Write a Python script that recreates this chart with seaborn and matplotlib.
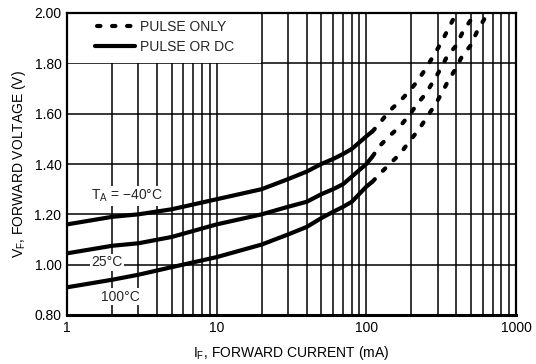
import numpy as np
import pandas as pd
import matplotlib
matplotlib.use("Agg")
import matplotlib.pyplot as plt
import seaborn as sns
from matplotlib.ticker import LogLocator, FixedLocator, NullFormatter
from matplotlib.patches import Rectangle
from matplotlib.lines import Line2D

# ---- data ----
i_solid = [1, 2, 3, 5, 10, 20, 30, 40, 50, 60, 70, 80, 100, 110]
v_solid_m40 = [1.16, 1.19, 1.20, 1.22, 1.26, 1.30, 1.34, 1.37, 1.40, 1.42, 1.44, 1.46, 1.51, 1.53]
v_solid_25 = [1.045, 1.075, 1.085, 1.11, 1.16, 1.20, 1.23, 1.25, 1.28, 1.30, 1.32, 1.35, 1.40, 1.43]
v_solid_100 = [0.91, 0.94, 0.96, 0.99, 1.03, 1.08, 1.12, 1.15, 1.185, 1.21, 1.23, 1.25, 1.31, 1.33]

i_dash_m40 = [110, 122, 142, 168, 194, 220, 250, 281, 315, 348, 400]
v_dash_m40 = [1.53, 1.56, 1.61, 1.65, 1.69, 1.73, 1.78, 1.83, 1.88, 1.93, 2.00]
i_dash_25 = [110, 122, 142, 168, 194, 220, 250, 281, 315, 348, 398, 445, 496, 530]
v_dash_25 = [1.43, 1.47, 1.51, 1.55, 1.595, 1.64, 1.68, 1.73, 1.78, 1.83, 1.87, 1.93, 1.97, 2.00]
i_dash_100 = [110, 125, 146, 168, 194, 223, 250, 284, 315, 352, 392, 438, 496, 553, 620, 650]
v_dash_100 = [1.33, 1.365, 1.405, 1.44, 1.49, 1.535, 1.58, 1.63, 1.675, 1.73, 1.775, 1.83, 1.87, 1.93, 1.98, 2.00]

x_ticks = [1, 10, 100, 1000]
x_tick_labels = ["1", "10", "100", "1000"]
y_ticks = [0.80, 1.00, 1.20, 1.40, 1.60, 1.80, 2.00]
y_tick_labels = ["0.80", "1.00", "1.20", "1.40", "1.60", "1.80", "2.00"]

legend_labels = ["PULSE ONLY", "PULSE OR DC"]
curve_labels = [r"T$_\mathregular{A}$ = −40°C", "25°C", "100°C"]

# ---- style ----
sns.set_theme(style="white")
plt.rcParams["font.family"] = ["Liberation Sans", "DejaVu Sans"]
FS = 10

fig = plt.figure(figsize=(5.36, 3.64), dpi=100)
ax = fig.add_axes([67 / 536, 1 - 315 / 364, 449 / 536, 302 / 364])

ax.set_xscale("log")
ax.set_xlim(1, 1000)
ax.set_ylim(0.8, 2.0)

ax.xaxis.set_major_locator(FixedLocator(x_ticks))
ax.xaxis.set_minor_locator(LogLocator(base=10, subs=np.arange(2, 10)))
ax.xaxis.set_minor_formatter(NullFormatter())
ax.set_xticks(x_ticks)
ax.set_xticklabels(x_tick_labels, fontsize=FS)
ax.set_yticks(y_ticks)
ax.set_yticklabels(y_tick_labels, fontsize=FS)
ax.grid(which="both", axis="both", color="black", linewidth=1.1, zorder=0.5)
ax.set_axisbelow(True)
ax.tick_params(which="both", length=0, pad=4, colors="black")

for s in ax.spines.values():
    s.set_color("black")
    s.set_linewidth(1.6)
ax.spines["bottom"].set_linewidth(2.2)

# white area behind legend
ax.add_patch(Rectangle((0, 0.836), 0.432, 0.164, transform=ax.transAxes,
                       facecolor="white", edgecolor="none", zorder=1.2))

LW = 3.0
DASH = (0.8, 2.8)
for xs, ys in [(i_solid, v_solid_m40), (i_solid, v_solid_25), (i_solid, v_solid_100)]:
    sns.lineplot(x=xs, y=ys, ax=ax, color="black", linewidth=LW, zorder=3,
                 solid_capstyle="butt")
for xs, ys in [(i_dash_m40, v_dash_m40), (i_dash_25, v_dash_25), (i_dash_100, v_dash_100)]:
    sns.lineplot(x=xs, y=ys, ax=ax, color="black", linewidth=LW, zorder=3,
                 dashes=False, linestyle=(0, DASH), dash_capstyle="round")

# curve labels
bb = dict(facecolor="white", edgecolor="none", pad=1.0)
ax.text(2.5, 1.273, curve_labels[0], fontsize=FS, ha="center", va="center", bbox=bb, zorder=2)
ax.text(1.85, 1.01, curve_labels[1], fontsize=FS, ha="center", va="center", bbox=bb, zorder=2)
ax.text(2.29, 0.872, curve_labels[2], fontsize=FS, ha="center", va="center", bbox=bb, zorder=2)

# legend
handles = [Line2D([], [], color="black", linewidth=LW, linestyle=(-0.5, DASH),
                  dash_capstyle="round"),
           Line2D([], [], color="black", linewidth=LW)]
leg = ax.legend(handles, legend_labels, loc="upper left", bbox_to_anchor=(0.062, 0.978),
                frameon=False, fontsize=FS, handlelength=2.9, handletextpad=0.36,
                labelspacing=0.48, borderpad=0, borderaxespad=0)
leg.set_zorder(5)

ax.set_xlabel(r"I$_\mathregular{F}$, FORWARD CURRENT (mA)", fontsize=FS, color="black")
ax.set_ylabel(r"V$_\mathregular{F}$, FORWARD VOLTAGE (V)", fontsize=FS, color="black")
ax.xaxis.set_label_coords(0.5, -0.096)
ax.yaxis.set_label_coords(-0.087, 0.5)

fig.savefig("out.png", dpi=100, facecolor="white")
